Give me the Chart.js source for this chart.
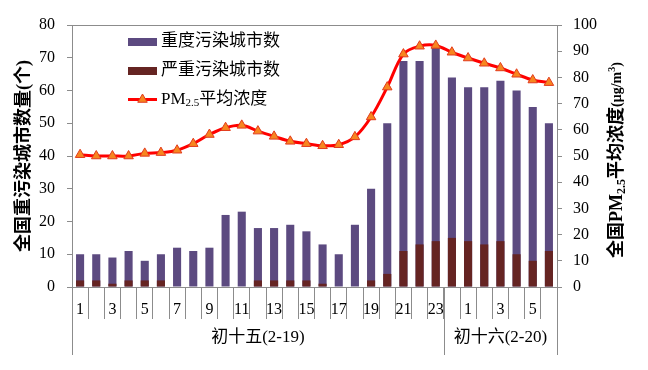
<!DOCTYPE html>
<html><head><meta charset="utf-8">
<script src="https://cdn.jsdelivr.net/npm/chart.js@4"></script>
<style>html,body{margin:0;padding:0;background:#fff}</style>
</head><body><canvas id="c" width="648" height="370"></canvas>
<script>
// ---- data ----
const hours = ['1','2','3','4','5','6','7','8','9','10','11','12','13','14','15','16','17','18','19','20','21','22','23','0','1','2','3','4','5','6'];
const heavyCities = [10,10,9,11,8,10,12,11,12,22,23,18,18,19,17,13,10,19,30,50,69,69,73,64,61,61,63,60,55,50];
const severeCities = [2,2,1,2,2,2,0,0,0,0,0,2,2,2,2,1,0,0,2,4,11,13,14,15,14,13,14,10,8,11];
const pm25 = [50.5,50,50,50,51,51.3,52.2,54.7,58.2,60.8,61.7,59.5,57.5,55.6,54.7,53.9,54.3,57.3,64.9,76.3,88.9,91.9,92.2,89.6,87.4,85.4,83.6,81.2,79,78];
const groupLabels = ['初十五(2-19)','初十六(2-20)'];
const groupSizes = [23,7];
const seriesNames = ['重度污染城市数','严重污染城市数','PM2.5平均浓度'];
const leftTitle = '全国重污染城市数量(个)';

const FONT = '"Liberation Serif", "Noto Sans CJK SC", serif';
const AXIS = '#8c8c8c';
const PURPLE = '#5C4A80';
const DARKRED = '#652422';
const RED = '#FF0000';
const ORANGE = '#F7861F';

function richWidth(ctx, pieces){
  let w = 0;
  for (const p of pieces){ ctx.font = (p.weight||'normal') + ' ' + p.size + 'px ' + FONT; w += ctx.measureText(p.t).width; }
  return w;
}
function drawRich(ctx, pieces, x, y){
  let cx = x;
  ctx.textBaseline = 'middle'; ctx.textAlign = 'left'; ctx.fillStyle = '#000';
  for (const p of pieces){
    ctx.font = (p.weight||'normal') + ' ' + p.size + 'px ' + FONT;
    ctx.fillText(p.t, cx, y + (p.dy||0));
    cx += ctx.measureText(p.t).width;
  }
}

const decor = {
  id: 'decor',
  afterDraw(chart){
    const ctx = chart.ctx, a = chart.chartArea, xs = chart.scales.x;
    ctx.save();
    ctx.strokeStyle = AXIS; ctx.lineWidth = 1;
    // top border
    ctx.beginPath(); ctx.moveTo(a.left, Math.round(a.top)+0.5); ctx.lineTo(a.right, Math.round(a.top)+0.5); ctx.stroke();
    // group separators and labels
    let start = 0;
    const bx = k => xs.getPixelForValue(k - 0.5);
    const bounds = [0];
    groupSizes.forEach(s => { start += s; bounds.push(start); });
    bounds.forEach(k => {
      const px = Math.round(bx(k)) + 0.5;
      ctx.beginPath(); ctx.moveTo(px, a.bottom); ctx.lineTo(px, 355); ctx.stroke();
    });
    ctx.fillStyle = '#000'; ctx.textAlign = 'center'; ctx.textBaseline = 'middle';
    ctx.font = '17px ' + FONT;
    groupLabels.forEach((g, i) => {
      const cx = (bx(bounds[i]) + bx(bounds[i+1])) / 2;
      ctx.fillText(g, cx, 338);
    });
    // legend
    const lx = 128, lw = 29, tx = 161;
    const rows = [42, 71, 99.5];
    ctx.fillStyle = PURPLE; ctx.fillRect(lx, rows[0]-4, lw, 8);
    ctx.fillStyle = DARKRED; ctx.fillRect(lx, rows[1]-4, lw, 8);
    ctx.strokeStyle = RED; ctx.lineWidth = 3;
    ctx.beginPath(); ctx.moveTo(lx, rows[2]); ctx.lineTo(lx+lw, rows[2]); ctx.stroke();
    // triangle marker
    const mx = lx + lw/2, my = rows[2], r = 5.5;
    ctx.beginPath();
    for (let k = 0; k < 3; k++){
      const ang = k * 2*Math.PI/3;
      const px = mx + Math.sin(ang)*r, py = my - Math.cos(ang)*r;
      if (k===0) ctx.moveTo(px,py); else ctx.lineTo(px,py);
    }
    ctx.closePath(); ctx.fillStyle = ORANGE; ctx.fill(); ctx.lineWidth = 1; ctx.strokeStyle = '#E23A1C'; ctx.stroke();
    drawRich(ctx, [{t: seriesNames[0], size: 17}], tx, rows[0]);
    drawRich(ctx, [{t: seriesNames[1], size: 17}], tx, rows[1]);
    drawRich(ctx, [{t:'PM', size:17},{t:'2.5', size:11, dy:4},{t:'平均浓度', size:17}], tx, rows[2]);
    // right axis title (rotated, reading bottom to top)
    const rp = [
      {t:'全国', size:18, weight:'bold'},
      {t:'PM', size:18, weight:'bold'},
      {t:'2.5', size:12, weight:'bold', dy:5},
      {t:'平均浓度', size:18, weight:'bold'},
      {t:'(μg/m', size:14, weight:'bold'},
      {t:'3', size:10, weight:'bold', dy:-5},
      {t:')', size:14, weight:'bold'}
    ];
    const w = richWidth(ctx, rp);
    ctx.translate(617, 160);
    ctx.rotate(-Math.PI/2);
    drawRich(ctx, rp, -w/2, 0);
    ctx.restore();
  }
};

new Chart(document.getElementById('c').getContext('2d'), {
  data: {
    labels: hours,
    datasets: [
      {type:'line', label: seriesNames[2], data: pm25, yAxisID:'y2', borderColor: RED, borderWidth: 3,
       tension: 0.35, pointStyle:'triangle', pointRadius: 5.5, pointBackgroundColor: ORANGE,
       pointBorderColor:'#E23A1C', pointBorderWidth: 1, order: 0},
      {type:'bar', label: seriesNames[1], data: severeCities, yAxisID:'y', backgroundColor: DARKRED,
       grouped:false, barPercentage:0.5, categoryPercentage:1, order:1},
      {type:'bar', label: seriesNames[0], data: heavyCities, yAxisID:'y', backgroundColor: PURPLE,
       grouped:false, barPercentage:0.5, categoryPercentage:1, order:2}
    ]
  },
  options: {
    responsive:false, animation:false, devicePixelRatio:1,
    layout:{padding:{top:25,left:0,right:0,bottom:0}},
    plugins:{legend:{display:false}, tooltip:{enabled:false}},
    scales:{
      x:{type:'category', offset:true,
         grid:{offset:true, drawOnChartArea:false, tickLength:32, color:AXIS},
         border:{color:AXIS},
         ticks:{autoSkip:false, maxRotation:0, minRotation:0, padding:-19, color:'#000', font:{family:FONT,size:16},
                callback:(v,i)=> i%2===0 ? hours[i] : ''},
         afterFit:s=>{s.height=83;}},
      y:{position:'left', min:0, max:80,
         ticks:{stepSize:10, padding:12, color:'#000', font:{family:FONT,size:16}},
         grid:{drawOnChartArea:false, tickLength:5, color:AXIS},
         border:{color:AXIS},
         title:{display:true, text:leftTitle, color:'#000', font:{family:FONT,size:18,weight:'bold'}, padding:{top:14,bottom:0}},
         afterFit:s=>{s.width=72;}},
      y2:{position:'right', min:0, max:100,
         ticks:{stepSize:10, padding:11, color:'#000', font:{family:FONT,size:16}},
         grid:{drawOnChartArea:false, tickLength:5, color:AXIS},
         border:{color:AXIS},
         afterFit:s=>{s.width=91;}}
    }
  },
  plugins:[decor]
});
</script>
</body></html>
